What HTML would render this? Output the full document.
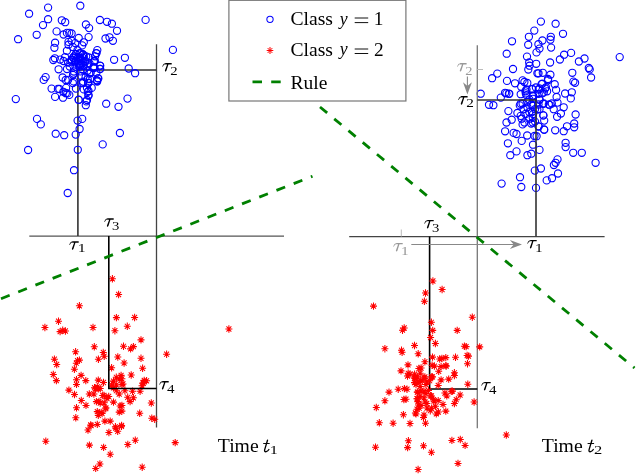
<!DOCTYPE html>
<html><head><meta charset="utf-8"><style>
html,body{margin:0;padding:0;background:#fff;width:636px;height:474px;overflow:hidden}
svg{display:block}
</style></head><body>
<svg width="636" height="474" viewBox="0 0 636 474">
<defs>
<g id="tau"><path d="M2.6,-8.6 L9.5,-8.6 L9.5,-7.15 L2.6,-7.15 Z M2.9,-8.5 C1.6,-8.0 0.7,-6.6 0.1,-5.0 L0.7,-4.8 C1.2,-6.1 2.0,-7.2 3.0,-7.3 Z M5.0,-7.4 L6.3,-7.4 L4.3,-1.0 C4.0,-0.2 3.3,0.1 2.9,-0.15 C2.6,-0.45 2.6,-1.0 2.85,-1.6 Z"/></g>
<g id="st" stroke="#ff0000" stroke-width="1.05" fill="none">
<path d="M-3.5 0H3.5M0 -3.7V3.7M-2.45 -2.55L2.45 2.55M-2.45 2.55L2.45 -2.55"/>
</g>
</defs>
<rect width="636" height="474" fill="#fff"/>
<g fill="none" stroke-linecap="butt">
<!-- left panel base lines -->
<line x1="29.3" y1="236.1" x2="284" y2="236.1" stroke="#555" stroke-width="1.3"/>
<line x1="156.5" y1="44.3" x2="156.5" y2="427.5" stroke="#444" stroke-width="1.3"/>
<polyline points="77.9,236 77.9,70 156.5,70" stroke="#333" stroke-width="1.6"/>
</g>
<g fill="none" stroke="#0000ff" stroke-width="1.1"><circle cx="48.1" cy="7.6" r="3.6"/><circle cx="80.3" cy="5.7" r="3.6"/><circle cx="29.1" cy="13.7" r="3.6"/><circle cx="48.1" cy="19.2" r="3.6"/><circle cx="43.0" cy="25.1" r="3.6"/><circle cx="61.8" cy="20.3" r="3.6"/><circle cx="65.2" cy="22.2" r="3.6"/><circle cx="36.7" cy="34.8" r="3.6"/><circle cx="18.1" cy="39.2" r="3.6"/><circle cx="56.6" cy="31.4" r="3.6"/><circle cx="63.6" cy="34.5" r="3.6"/><circle cx="66.9" cy="32.9" r="3.6"/><circle cx="69.3" cy="32.9" r="3.6"/><circle cx="71.6" cy="33.5" r="3.6"/><circle cx="99.9" cy="20" r="3.6"/><circle cx="107" cy="21.8" r="3.6"/><circle cx="111.9" cy="23.7" r="3.6"/><circle cx="117" cy="30.8" r="3.6"/><circle cx="145.6" cy="19.9" r="3.6"/><circle cx="85.9" cy="24.5" r="3.6"/><circle cx="89.1" cy="28.1" r="3.6"/><circle cx="88.6" cy="37.1" r="3.6"/><circle cx="105.5" cy="38.5" r="3.6"/><circle cx="109.5" cy="37.3" r="3.6"/><circle cx="112.9" cy="40.8" r="3.6"/><circle cx="97.3" cy="50.1" r="3.6"/><circle cx="96.3" cy="53.3" r="3.6"/><circle cx="114.1" cy="59.8" r="3.6"/><circle cx="124.9" cy="57.8" r="3.6"/><circle cx="128.7" cy="68.5" r="3.6"/><circle cx="135.1" cy="73.2" r="3.6"/><circle cx="172.9" cy="49.9" r="3.6"/><circle cx="55.1" cy="42.7" r="3.6"/><circle cx="54.4" cy="47.8" r="3.6"/><circle cx="78.7" cy="38" r="3.6"/><circle cx="68.5" cy="41.9" r="3.6"/><circle cx="71.6" cy="40.7" r="3.6"/><circle cx="68.5" cy="44.7" r="3.6"/><circle cx="72.8" cy="47" r="3.6"/><circle cx="75.2" cy="43.1" r="3.6"/><circle cx="83.8" cy="42.3" r="3.6"/><circle cx="82.2" cy="45.4" r="3.6"/><circle cx="53.3" cy="60" r="3.6"/><circle cx="54.8" cy="58.3" r="3.6"/><circle cx="60.2" cy="59.6" r="3.6"/><circle cx="63.5" cy="61" r="3.6"/><circle cx="77.5" cy="50.2" r="3.6"/><circle cx="76" cy="54.1" r="3.6"/><circle cx="80.7" cy="53.3" r="3.6"/><circle cx="78.3" cy="57.2" r="3.6"/><circle cx="83.8" cy="56.4" r="3.6"/><circle cx="65" cy="57.2" r="3.6"/><circle cx="83" cy="54.7" r="3.6"/><circle cx="79.9" cy="57.9" r="3.6"/><circle cx="72" cy="60.2" r="3.6"/><circle cx="68.1" cy="62.6" r="3.6"/><circle cx="85.4" cy="61.8" r="3.6"/><circle cx="69.7" cy="66.5" r="3.6"/><circle cx="87" cy="65.7" r="3.6"/><circle cx="83" cy="69.7" r="3.6"/><circle cx="73.6" cy="73.6" r="3.6"/><circle cx="89.3" cy="73.6" r="3.6"/><circle cx="81.4" cy="76" r="3.6"/><circle cx="87.7" cy="79.1" r="3.6"/><circle cx="68.1" cy="79.9" r="3.6"/><circle cx="73.6" cy="81.4" r="3.6"/><circle cx="83" cy="83" r="3.6"/><circle cx="62.6" cy="77.5" r="3.6"/><circle cx="58.6" cy="69.3" r="3.6"/><circle cx="94.8" cy="61" r="3.6"/><circle cx="93.6" cy="66.9" r="3.6"/><circle cx="96.4" cy="72.8" r="3.6"/><circle cx="98" cy="78.3" r="3.6"/><circle cx="96.4" cy="53.1" r="3.6"/><circle cx="51.6" cy="88.6" r="3.6"/><circle cx="59.4" cy="89" r="3.6"/><circle cx="66.1" cy="87.9" r="3.6"/><circle cx="63.4" cy="91.8" r="3.6"/><circle cx="67.3" cy="93.4" r="3.6"/><circle cx="69.3" cy="94.9" r="3.6"/><circle cx="55.1" cy="96.9" r="3.6"/><circle cx="63" cy="97.7" r="3.6"/><circle cx="75.9" cy="88.6" r="3.6"/><circle cx="78.7" cy="99.7" r="3.6"/><circle cx="85.8" cy="105.2" r="3.6"/><circle cx="87" cy="100" r="3.6"/><circle cx="88.5" cy="95.7" r="3.6"/><circle cx="88.5" cy="91" r="3.6"/><circle cx="87" cy="87.9" r="3.6"/><circle cx="83.8" cy="89.4" r="3.6"/><circle cx="97.2" cy="81.6" r="3.6"/><circle cx="65.7" cy="80" r="3.6"/><circle cx="72.8" cy="83.1" r="3.6"/><circle cx="81.4" cy="83.1" r="3.6"/><circle cx="88.5" cy="83.1" r="3.6"/><circle cx="91.7" cy="87.9" r="3.6"/><circle cx="45.6" cy="77.1" r="3.6"/><circle cx="43.7" cy="79.9" r="3.6"/><circle cx="57.9" cy="88.9" r="3.6"/><circle cx="15.8" cy="99.1" r="3.6"/><circle cx="37" cy="118.9" r="3.6"/><circle cx="40.8" cy="124.4" r="3.6"/><circle cx="55.7" cy="133.7" r="3.6"/><circle cx="64.2" cy="135.2" r="3.6"/><circle cx="75.7" cy="134.6" r="3.6"/><circle cx="77.6" cy="120.6" r="3.6"/><circle cx="78.7" cy="99.9" r="3.6"/><circle cx="79.6" cy="129" r="3.6"/><circle cx="77.8" cy="149.8" r="3.6"/><circle cx="28.1" cy="150" r="3.6"/><circle cx="106.2" cy="103.7" r="3.6"/><circle cx="118.5" cy="106.8" r="3.6"/><circle cx="127.5" cy="98.6" r="3.6"/><circle cx="86.3" cy="101.4" r="3.6"/><circle cx="88.5" cy="95.1" r="3.6"/><circle cx="87.8" cy="91.9" r="3.6"/><circle cx="82.2" cy="118.9" r="3.6"/><circle cx="119.9" cy="133" r="3.6"/><circle cx="102.7" cy="144.4" r="3.6"/><circle cx="65.8" cy="93.2" r="3.6"/><circle cx="74" cy="170.2" r="3.6"/><circle cx="67.7" cy="193" r="3.6"/><circle cx="93.8" cy="61.4" r="3.6"/><circle cx="100" cy="65.6" r="3.6"/><circle cx="100" cy="69" r="3.6"/><circle cx="93.3" cy="68" r="3.6"/><circle cx="97.1" cy="80.8" r="3.6"/><circle cx="94.5" cy="61.3" r="3.6"/><circle cx="94.5" cy="67.7" r="3.6"/><circle cx="100.2" cy="65.8" r="3.6"/><circle cx="100.2" cy="68.9" r="3.6"/><circle cx="98.3" cy="78.4" r="3.6"/><circle cx="97" cy="80.3" r="3.6"/><circle cx="89.4" cy="63.2" r="3.6"/><circle cx="87.5" cy="70.8" r="3.6"/><circle cx="90.7" cy="72.7" r="3.6"/><circle cx="88.8" cy="57.5" r="3.6"/><circle cx="95.1" cy="56.3" r="3.6"/><circle cx="85.6" cy="77.2" r="3.6"/><circle cx="90" cy="79" r="3.6"/><circle cx="83.1" cy="81.6" r="3.6"/><circle cx="88.1" cy="82.8" r="3.6"/><circle cx="75.8" cy="54.2" r="3.6"/><circle cx="79.6" cy="53.2" r="3.6"/><circle cx="82.9" cy="54.2" r="3.6"/><circle cx="73.4" cy="57.5" r="3.6"/><circle cx="78.2" cy="57.9" r="3.6"/><circle cx="82.9" cy="57.9" r="3.6"/><circle cx="86.2" cy="56.5" r="3.6"/><circle cx="75.8" cy="60.8" r="3.6"/><circle cx="80.5" cy="60.8" r="3.6"/><circle cx="85.2" cy="60.8" r="3.6"/><circle cx="75.5" cy="66.6" r="3.6"/><circle cx="75.6" cy="60.8" r="3.6"/><circle cx="71.4" cy="61.5" r="3.6"/><circle cx="83.7" cy="66.0" r="3.6"/><circle cx="83.2" cy="64.7" r="3.6"/><circle cx="79.4" cy="64.3" r="3.6"/><circle cx="67.0" cy="69.0" r="3.6"/><circle cx="80.0" cy="66.5" r="3.6"/><circle cx="66.9" cy="50.8" r="3.6"/><circle cx="71.7" cy="59.7" r="3.6"/><circle cx="78.8" cy="62.7" r="3.6"/><circle cx="80.1" cy="58.5" r="3.6"/><circle cx="78.9" cy="65.8" r="3.6"/><circle cx="73.0" cy="75.0" r="3.6"/><circle cx="80.3" cy="71.4" r="3.6"/><circle cx="73.3" cy="57.8" r="3.6"/><circle cx="74.9" cy="62.3" r="3.6"/><circle cx="80.8" cy="64.7" r="3.6"/><circle cx="74.3" cy="56.3" r="3.6"/><circle cx="73.9" cy="71.5" r="3.6"/></g>
<g><use href="#st" x="79.4" y="305.8"/><use href="#st" x="112.4" y="278.8"/><use href="#st" x="118.6" y="294.5"/><use href="#st" x="116.4" y="317.6"/><use href="#st" x="134.6" y="317.5"/><use href="#st" x="58.5" y="321.2"/><use href="#st" x="44.9" y="327.5"/><use href="#st" x="60.1" y="331.6"/><use href="#st" x="62.7" y="330.3"/><use href="#st" x="65.4" y="331"/><use href="#st" x="93" y="327.5"/><use href="#st" x="94.3" y="346.8"/><use href="#st" x="75.6" y="351.8"/><use href="#st" x="103.3" y="352.5"/><use href="#st" x="104.2" y="356.3"/><use href="#st" x="98.4" y="359.2"/><use href="#st" x="54.4" y="359.2"/><use href="#st" x="77.5" y="360.7"/><use href="#st" x="79.4" y="360.1"/><use href="#st" x="76.3" y="363.2"/><use href="#st" x="56.7" y="364.5"/><use href="#st" x="53.3" y="374.5"/><use href="#st" x="56.4" y="380.6"/><use href="#st" x="74.4" y="369.2"/><use href="#st" x="81.1" y="375.4"/><use href="#st" x="76.5" y="379.7"/><use href="#st" x="85.8" y="380.6"/><use href="#st" x="76.5" y="384.4"/><use href="#st" x="68.9" y="390.1"/><use href="#st" x="74.5" y="394.5"/><use href="#st" x="89.3" y="394"/><use href="#st" x="81.3" y="400.5"/><use href="#st" x="127.3" y="326.3"/><use href="#st" x="114.9" y="330.7"/><use href="#st" x="141" y="339.9"/><use href="#st" x="123.5" y="346.3"/><use href="#st" x="130.6" y="348.9"/><use href="#st" x="133.4" y="346.6"/><use href="#st" x="117.8" y="357"/><use href="#st" x="124.1" y="363"/><use href="#st" x="141" y="358.3"/><use href="#st" x="111.6" y="367.8"/><use href="#st" x="142.6" y="368.3"/><use href="#st" x="131.2" y="375"/><use href="#st" x="98.3" y="380.1"/><use href="#st" x="103.5" y="382.5"/><use href="#st" x="97.3" y="386.8"/><use href="#st" x="94.5" y="387.7"/><use href="#st" x="100.2" y="388.5"/><use href="#st" x="116.3" y="377.3"/><use href="#st" x="119.2" y="379.2"/><use href="#st" x="121.1" y="375.4"/><use href="#st" x="113.5" y="381.1"/><use href="#st" x="111.6" y="384.9"/><use href="#st" x="116.3" y="384.9"/><use href="#st" x="123" y="383.9"/><use href="#st" x="143" y="383"/><use href="#st" x="142" y="385.8"/><use href="#st" x="86" y="405.4"/><use href="#st" x="95.4" y="388.8"/><use href="#st" x="96.4" y="401.6"/><use href="#st" x="100.2" y="403"/><use href="#st" x="104" y="395.4"/><use href="#st" x="108.7" y="396.4"/><use href="#st" x="113.5" y="402.1"/><use href="#st" x="120.1" y="405.9"/><use href="#st" x="119.2" y="412.1"/><use href="#st" x="105.9" y="407.8"/><use href="#st" x="97.3" y="411.6"/><use href="#st" x="102.1" y="413.5"/><use href="#st" x="98.3" y="415.4"/><use href="#st" x="104.9" y="421.1"/><use href="#st" x="110.2" y="421.1"/><use href="#st" x="90.7" y="425"/><use href="#st" x="97.3" y="424.4"/><use href="#st" x="115.4" y="426.8"/><use href="#st" x="121.6" y="425.4"/><use href="#st" x="119.2" y="394"/><use href="#st" x="124.9" y="390.7"/><use href="#st" x="132.5" y="391.2"/><use href="#st" x="140.1" y="391.2"/><use href="#st" x="127.7" y="397.3"/><use href="#st" x="133.4" y="397.8"/><use href="#st" x="130.1" y="401.6"/><use href="#st" x="139.7" y="413.3"/><use href="#st" x="113.5" y="387.8"/><use href="#st" x="116.3" y="390.7"/><use href="#st" x="76.5" y="407.8"/><use href="#st" x="75.8" y="417.8"/><use href="#st" x="88" y="430"/><use href="#st" x="45.8" y="441.2"/><use href="#st" x="108.9" y="432.5"/><use href="#st" x="115.8" y="428.1"/><use href="#st" x="117.7" y="431.3"/><use href="#st" x="121.5" y="426.3"/><use href="#st" x="89.4" y="445.1"/><use href="#st" x="103.6" y="447.4"/><use href="#st" x="110.2" y="454.3"/><use href="#st" x="127.8" y="444.5"/><use href="#st" x="135.3" y="440.2"/><use href="#st" x="99.9" y="464"/><use href="#st" x="95.7" y="468.4"/><use href="#st" x="142.2" y="467.2"/><use href="#st" x="166.6" y="354.2"/><use href="#st" x="144.2" y="380.4"/><use href="#st" x="146.6" y="380.8"/><use href="#st" x="143.3" y="383.1"/><use href="#st" x="121.9" y="378.8"/><use href="#st" x="121.9" y="384.5"/><use href="#st" x="151.3" y="403"/><use href="#st" x="121.9" y="405.4"/><use href="#st" x="121.9" y="411.1"/><use href="#st" x="151.8" y="418.2"/><use href="#st" x="154.7" y="419.2"/><use href="#st" x="175.2" y="442.6"/><use href="#st" x="228.9" y="329"/><use href="#st" x="91.1" y="425.6"/><use href="#st" x="102.7" y="395.5"/><use href="#st" x="99" y="401.4"/><use href="#st" x="104.2" y="402.8"/><use href="#st" x="101.2" y="412.4"/><use href="#st" x="105.7" y="408.7"/><use href="#st" x="93.9" y="394"/><use href="#st" x="98.3" y="388.8"/><use href="#st" x="107" y="398.5"/></g>
<polyline points="108.8,236 108.8,388.5 156.5,388.5" fill="none" stroke="#000" stroke-width="1.6"/>
<!-- right panel -->
<g fill="none" stroke="#0000ff" stroke-width="1.1"><circle cx="540.9" cy="21.6" r="3.6"/><circle cx="555.6" cy="23.7" r="3.6"/><circle cx="563" cy="33.8" r="3.6"/><circle cx="534.3" cy="30.6" r="3.6"/><circle cx="528.9" cy="36.8" r="3.6"/><circle cx="512" cy="41.3" r="3.6"/><circle cx="528.2" cy="44.8" r="3.6"/><circle cx="506.7" cy="53.7" r="3.6"/><circle cx="542.4" cy="40.5" r="3.6"/><circle cx="538.4" cy="44.2" r="3.6"/><circle cx="539.5" cy="48.6" r="3.6"/><circle cx="536.5" cy="52.4" r="3.6"/><circle cx="550.8" cy="36.8" r="3.6"/><circle cx="550.4" cy="39.7" r="3.6"/><circle cx="551.1" cy="47.6" r="3.6"/><circle cx="527" cy="56.6" r="3.6"/><circle cx="529.2" cy="62.5" r="3.6"/><circle cx="529.5" cy="65.7" r="3.6"/><circle cx="536.2" cy="63.8" r="3.6"/><circle cx="550.1" cy="62.5" r="3.6"/><circle cx="513" cy="69" r="3.6"/><circle cx="528.3" cy="69.5" r="3.6"/><circle cx="559.9" cy="59.5" r="3.6"/><circle cx="564.1" cy="54.7" r="3.6"/><circle cx="571.1" cy="52.9" r="3.6"/><circle cx="578.9" cy="61.5" r="3.6"/><circle cx="584.5" cy="58.5" r="3.6"/><circle cx="619.7" cy="57.1" r="3.6"/><circle cx="588.8" cy="68" r="3.6"/><circle cx="589.7" cy="69.4" r="3.6"/><circle cx="591.1" cy="77.5" r="3.6"/><circle cx="572.3" cy="72.8" r="3.6"/><circle cx="573.4" cy="81.6" r="3.6"/><circle cx="575.1" cy="82.8" r="3.6"/><circle cx="497.3" cy="73.6" r="3.6"/><circle cx="492.1" cy="78.2" r="3.6"/><circle cx="507" cy="80.9" r="3.6"/><circle cx="515" cy="83.3" r="3.6"/><circle cx="522.6" cy="80.4" r="3.6"/><circle cx="524.4" cy="82" r="3.6"/><circle cx="527.3" cy="83" r="3.6"/><circle cx="521.2" cy="86.8" r="3.6"/><circle cx="480.7" cy="93.7" r="3.6"/><circle cx="505.1" cy="92.8" r="3.6"/><circle cx="508.9" cy="93.7" r="3.6"/><circle cx="500.8" cy="97.6" r="3.6"/><circle cx="520.7" cy="94.2" r="3.6"/><circle cx="537.4" cy="73.3" r="3.6"/><circle cx="532.1" cy="89.4" r="3.6"/><circle cx="535.9" cy="87.5" r="3.6"/><circle cx="525.5" cy="91.3" r="3.6"/><circle cx="526.4" cy="95.1" r="3.6"/><circle cx="533.1" cy="96.1" r="3.6"/><circle cx="489" cy="104.8" r="3.6"/><circle cx="493.4" cy="105.2" r="3.6"/><circle cx="520.7" cy="103.7" r="3.6"/><circle cx="527.4" cy="101.8" r="3.6"/><circle cx="508.4" cy="111.1" r="3.6"/><circle cx="517.4" cy="113" r="3.6"/><circle cx="511.7" cy="119.7" r="3.6"/><circle cx="506.5" cy="122.5" r="3.6"/><circle cx="505.1" cy="131.3" r="3.6"/><circle cx="513.6" cy="132.9" r="3.6"/><circle cx="516.5" cy="134" r="3.6"/><circle cx="527.2" cy="135.5" r="3.6"/><circle cx="534.5" cy="136" r="3.6"/><circle cx="519.8" cy="105.4" r="3.6"/><circle cx="522.6" cy="103.5" r="3.6"/><circle cx="523.6" cy="109.2" r="3.6"/><circle cx="527.4" cy="107.3" r="3.6"/><circle cx="531.2" cy="104.5" r="3.6"/><circle cx="525.5" cy="114" r="3.6"/><circle cx="521.7" cy="118.7" r="3.6"/><circle cx="524.5" cy="122.5" r="3.6"/><circle cx="529.3" cy="118.7" r="3.6"/><circle cx="533.1" cy="114" r="3.6"/><circle cx="535" cy="109.2" r="3.6"/><circle cx="531.2" cy="123.5" r="3.6"/><circle cx="535" cy="121.6" r="3.6"/><circle cx="522.6" cy="124.4" r="3.6"/><circle cx="529.3" cy="112.1" r="3.6"/><circle cx="520.7" cy="115.9" r="3.6"/><circle cx="538.5" cy="73.3" r="3.6"/><circle cx="542.8" cy="72.8" r="3.6"/><circle cx="550.4" cy="74.7" r="3.6"/><circle cx="548" cy="79" r="3.6"/><circle cx="542.3" cy="83.7" r="3.6"/><circle cx="554.7" cy="84.2" r="3.6"/><circle cx="556.1" cy="89.9" r="3.6"/><circle cx="565.1" cy="93.5" r="3.6"/><circle cx="571.8" cy="92.3" r="3.6"/><circle cx="570.8" cy="98.4" r="3.6"/><circle cx="556.6" cy="97" r="3.6"/><circle cx="551.8" cy="103.5" r="3.6"/><circle cx="539.5" cy="88.5" r="3.6"/><circle cx="545.2" cy="88.5" r="3.6"/><circle cx="547.1" cy="91.3" r="3.6"/><circle cx="542.3" cy="93.2" r="3.6"/><circle cx="532.8" cy="96.1" r="3.6"/><circle cx="539.5" cy="99.9" r="3.6"/><circle cx="557.5" cy="102.6" r="3.6"/><circle cx="553.7" cy="109.2" r="3.6"/><circle cx="563.7" cy="107.3" r="3.6"/><circle cx="560.9" cy="113.5" r="3.6"/><circle cx="557.1" cy="116.8" r="3.6"/><circle cx="543.8" cy="103.5" r="3.6"/><circle cx="543.3" cy="115.4" r="3.6"/><circle cx="544.2" cy="120.6" r="3.6"/><circle cx="538.5" cy="126.3" r="3.6"/><circle cx="544.2" cy="129.9" r="3.6"/><circle cx="555.2" cy="130.3" r="3.6"/><circle cx="563.7" cy="131.2" r="3.6"/><circle cx="567" cy="126.3" r="3.6"/><circle cx="574.2" cy="123.5" r="3.6"/><circle cx="574.2" cy="127.3" r="3.6"/><circle cx="575.6" cy="114.5" r="3.6"/><circle cx="532.8" cy="98.8" r="3.6"/><circle cx="532.8" cy="105.4" r="3.6"/><circle cx="538.5" cy="104.5" r="3.6"/><circle cx="531.9" cy="112.1" r="3.6"/><circle cx="532.8" cy="117.8" r="3.6"/><circle cx="532.8" cy="122.5" r="3.6"/><circle cx="539.5" cy="109.2" r="3.6"/><circle cx="521.7" cy="140.9" r="3.6"/><circle cx="507.9" cy="143.3" r="3.6"/><circle cx="533" cy="144.7" r="3.6"/><circle cx="516.5" cy="151.4" r="3.6"/><circle cx="510.3" cy="155.2" r="3.6"/><circle cx="527.4" cy="155.2" r="3.6"/><circle cx="531.3" cy="153.7" r="3.6"/><circle cx="536.6" cy="136.2" r="3.6"/><circle cx="539.5" cy="149.9" r="3.6"/><circle cx="565.6" cy="142.8" r="3.6"/><circle cx="565.6" cy="147.1" r="3.6"/><circle cx="573.2" cy="152.8" r="3.6"/><circle cx="581.8" cy="152.8" r="3.6"/><circle cx="557.5" cy="159.4" r="3.6"/><circle cx="555.6" cy="162.8" r="3.6"/><circle cx="553.9" cy="165" r="3.6"/><circle cx="540.9" cy="168.5" r="3.6"/><circle cx="534.8" cy="170.6" r="3.6"/><circle cx="558" cy="173.5" r="3.6"/><circle cx="501.6" cy="183.6" r="3.6"/><circle cx="520" cy="177.2" r="3.6"/><circle cx="521.3" cy="187" r="3.6"/><circle cx="536" cy="187.9" r="3.6"/><circle cx="546.7" cy="180.4" r="3.6"/><circle cx="552" cy="178.2" r="3.6"/><circle cx="548.1" cy="80.2" r="3.6"/><circle cx="541.6" cy="84.1" r="3.6"/><circle cx="545.9" cy="87.3" r="3.6"/><circle cx="526.5" cy="89.5" r="3.6"/><circle cx="532.3" cy="88.8" r="3.6"/><circle cx="538.7" cy="89.5" r="3.6"/><circle cx="525.8" cy="93.4" r="3.6"/><circle cx="533" cy="95.6" r="3.6"/><circle cx="538.7" cy="93.8" r="3.6"/><circle cx="543.8" cy="92.4" r="3.6"/><circle cx="506.4" cy="93.4" r="3.6"/><circle cx="509.3" cy="93.8" r="3.6"/><circle cx="543" cy="103.8" r="3.6"/><circle cx="539.5" cy="99.5" r="3.6"/><circle cx="537.3" cy="109.6" r="3.6"/><circle cx="548.8" cy="104.6" r="3.6"/><circle cx="529.4" cy="99.5" r="3.6"/><circle cx="543.4" cy="115.4" r="3.6"/><circle cx="544.1" cy="129.4" r="3.6"/><circle cx="538.7" cy="126.6" r="3.6"/><circle cx="549.5" cy="104.7" r="3.6"/><circle cx="595.6" cy="162.8" r="3.6"/></g>
<g fill="none" stroke-linecap="butt">
<line x1="349.2" y1="236.6" x2="604.6" y2="236.6" stroke="#444" stroke-width="1.3"/>
<line x1="477.3" y1="45.2" x2="477.3" y2="428.3" stroke="#777" stroke-width="1.3"/>
<polyline points="536,236.5 536,100 477.3,100" stroke="#333" stroke-width="1.6"/>
<polyline points="429.6,236.5 429.6,389 477.3,389" stroke="#000" stroke-width="1.6"/>
<line x1="401.3" y1="229.5" x2="401.3" y2="236.5" stroke="#bbb" stroke-width="1"/>
<line x1="477.3" y1="69.5" x2="483" y2="69.5" stroke="#bbb" stroke-width="1"/>
<line x1="411.3" y1="244.5" x2="514" y2="244.5" stroke="#888" stroke-width="1.1"/>
<path d="M509.9 240 L522 244.5 L509.9 248.9 L513.7 244.5 Z" fill="#888" stroke="none"/>
<line x1="467.4" y1="76.4" x2="467.4" y2="87" stroke="#888" stroke-width="1.1"/>
<path d="M463 82.3 L467.4 94.5 L471.9 82.3 L467.4 86 Z" fill="#888" stroke="none"/>
</g>
<g><use href="#st" x="373.5" y="306.1"/><use href="#st" x="425.5" y="293"/><use href="#st" x="424.4" y="301.3"/><use href="#st" x="432.9" y="281"/><use href="#st" x="442.1" y="289.5"/><use href="#st" x="404.2" y="328"/><use href="#st" x="402.5" y="330.2"/><use href="#st" x="431.4" y="322.3"/><use href="#st" x="432.7" y="330.4"/><use href="#st" x="430.6" y="337.5"/><use href="#st" x="435.4" y="343.5"/><use href="#st" x="457.2" y="330.4"/><use href="#st" x="414.5" y="345.5"/><use href="#st" x="384.9" y="348.7"/><use href="#st" x="401.5" y="350.3"/><use href="#st" x="402.1" y="352.3"/><use href="#st" x="418.2" y="353.8"/><use href="#st" x="408" y="364.9"/><use href="#st" x="401" y="370.9"/><use href="#st" x="408.2" y="373.3"/><use href="#st" x="409.9" y="374.2"/><use href="#st" x="414.6" y="374.2"/><use href="#st" x="415.1" y="378.5"/><use href="#st" x="417.9" y="381.8"/><use href="#st" x="418.9" y="368.5"/><use href="#st" x="432.5" y="357.1"/><use href="#st" x="439.7" y="359"/><use href="#st" x="445.8" y="357.6"/><use href="#st" x="455.5" y="357.3"/><use href="#st" x="464.4" y="346.2"/><use href="#st" x="424.9" y="361.8"/><use href="#st" x="432.1" y="365.2"/><use href="#st" x="434.4" y="366.1"/><use href="#st" x="441.1" y="366.6"/><use href="#st" x="445.8" y="365.6"/><use href="#st" x="438.7" y="371.3"/><use href="#st" x="454.4" y="372.8"/><use href="#st" x="421.1" y="368"/><use href="#st" x="414.5" y="378"/><use href="#st" x="420.2" y="373.2"/><use href="#st" x="424" y="378"/><use href="#st" x="420.2" y="380.8"/><use href="#st" x="426.8" y="381.8"/><use href="#st" x="431.6" y="377"/><use href="#st" x="441.1" y="379.9"/><use href="#st" x="448.7" y="379.1"/><use href="#st" x="466.1" y="346.6"/><use href="#st" x="479.7" y="346.9"/><use href="#st" x="467.1" y="355.5"/><use href="#st" x="468.5" y="356.1"/><use href="#st" x="467.5" y="363.7"/><use href="#st" x="446.2" y="366.1"/><use href="#st" x="441.9" y="358.5"/><use href="#st" x="389" y="392.1"/><use href="#st" x="398.2" y="389.2"/><use href="#st" x="404.4" y="388.6"/><use href="#st" x="407" y="389.2"/><use href="#st" x="384.9" y="400.8"/><use href="#st" x="403.9" y="399.5"/><use href="#st" x="376.3" y="407.5"/><use href="#st" x="403.4" y="414.7"/><use href="#st" x="415.1" y="377.8"/><use href="#st" x="416" y="384.5"/><use href="#st" x="417.9" y="392.1"/><use href="#st" x="417" y="398.7"/><use href="#st" x="417.9" y="401.6"/><use href="#st" x="417" y="409.2"/><use href="#st" x="416" y="413.9"/><use href="#st" x="407.5" y="376"/><use href="#st" x="406" y="399.2"/><use href="#st" x="454.4" y="375.5"/><use href="#st" x="438.2" y="385.4"/><use href="#st" x="444.9" y="393"/><use href="#st" x="446.8" y="395.9"/><use href="#st" x="452.5" y="391.1"/><use href="#st" x="460.1" y="395"/><use href="#st" x="456.3" y="399.7"/><use href="#st" x="454.4" y="403.5"/><use href="#st" x="445.8" y="411.1"/><use href="#st" x="436.3" y="413.9"/><use href="#st" x="424" y="414.9"/><use href="#st" x="415.4" y="413"/><use href="#st" x="419.2" y="408.2"/><use href="#st" x="426.8" y="403.5"/><use href="#st" x="433.5" y="399.7"/><use href="#st" x="438.2" y="400.6"/><use href="#st" x="443" y="404.4"/><use href="#st" x="431.6" y="408.2"/><use href="#st" x="417.3" y="398.7"/><use href="#st" x="424" y="397.8"/><use href="#st" x="430.6" y="395.9"/><use href="#st" x="417.3" y="392.1"/><use href="#st" x="424" y="391.1"/><use href="#st" x="420.2" y="386.4"/><use href="#st" x="425.9" y="384.5"/><use href="#st" x="414.5" y="382.6"/><use href="#st" x="422.1" y="380.7"/><use href="#st" x="429.7" y="380.7"/><use href="#st" x="417.3" y="376.9"/><use href="#st" x="424.9" y="376.9"/><use href="#st" x="432.5" y="376.9"/><use href="#st" x="421.1" y="405.4"/><use href="#st" x="435.4" y="406.3"/><use href="#st" x="379.3" y="422.8"/><use href="#st" x="393.1" y="423.2"/><use href="#st" x="410" y="423.5"/><use href="#st" x="408.4" y="440.8"/><use href="#st" x="407.6" y="447.6"/><use href="#st" x="375.5" y="447.2"/><use href="#st" x="418.1" y="469.5"/><use href="#st" x="423.5" y="417.4"/><use href="#st" x="425.5" y="423.2"/><use href="#st" x="438.4" y="412"/><use href="#st" x="430.3" y="410.7"/><use href="#st" x="423.5" y="445.8"/><use href="#st" x="431.4" y="452.3"/><use href="#st" x="451.9" y="440.4"/><use href="#st" x="460.3" y="439.5"/><use href="#st" x="465.1" y="445.4"/><use href="#st" x="458" y="463.4"/><use href="#st" x="472.3" y="317.2"/><use href="#st" x="467.8" y="384.2"/><use href="#st" x="474.1" y="402"/><use href="#st" x="451.3" y="391.3"/><use href="#st" x="506.3" y="435"/><use href="#st" x="421" y="391"/><use href="#st" x="426" y="393.5"/><use href="#st" x="431.5" y="396"/><use href="#st" x="425" y="402"/><use href="#st" x="420" y="396.5"/><use href="#st" x="428.5" y="390.5"/><use href="#st" x="434" y="401"/><use href="#st" x="427" y="408"/><use href="#st" x="418.5" y="405"/></g>
<g fill="none">
<!-- legend -->
<rect x="228.9" y="0.3" width="177" height="100.7" stroke="#777" stroke-width="1.2" fill="#fff"/>
<circle cx="270" cy="19.3" r="3.15" stroke="#0000ff" stroke-width="1.05"/>
<use href="#st" transform="translate(270,50.5) scale(0.95)"/>
<line x1="252.5" y1="81.8" x2="281" y2="81.8" stroke="#008000" stroke-width="2.8" stroke-dasharray="9.5 9.2"/>
<!-- rules -->
<line x1="1" y1="298.7" x2="312.5" y2="176.2" stroke="#008000" stroke-width="2.8" stroke-dasharray="9.3 9.2"/>
<line x1="320" y1="107" x2="634.5" y2="368" stroke="#008000" stroke-width="2.8" stroke-dasharray="9.3 9.2"/>
</g>
<g font-family="Liberation Serif" fill="#000" style="opacity:0.999">
<text x="290.52" y="25.20" font-size="19.6" fill="#000">Class</text>
<text x="339.81" y="24.50" font-size="17.8" fill="#000" font-style="italic">y</text>
<path d="M354.7 18.0H368.2M354.7 22.6H368.2" stroke="#111" stroke-width="1"/>
<text x="373.85" y="25.00" font-size="19.4" fill="#000">1</text>
<text x="290.52" y="56.00" font-size="19.6" fill="#000">Class</text>
<text x="339.81" y="55.40" font-size="17.8" fill="#000" font-style="italic">y</text>
<path d="M354.7 49.0H368.2M354.7 53.5H368.2" stroke="#111" stroke-width="1"/>
<text x="373.93" y="55.90" font-size="19.3" fill="#000">2</text>
<text x="290.62" y="88.70" font-size="19.5" fill="#000">Rule</text>
<text x="217.81" y="451.70" font-size="19.7" fill="#000">Time</text>
<path d="M267.5 440.2 L264.7 449.6 Q264.1 452.1 266.2 451.7 Q267.9 451.2 268.9 449.5" fill="none" stroke="#000" stroke-width="1.35" stroke-linecap="round"/><path d="M263.2 443.5H269.7" stroke="#000" stroke-width="0.95"/>
<text transform="translate(271.00,453.80) scale(1.257,1)" x="-1.10" y="0" font-size="13" fill="#000">1</text>
<text x="541.81" y="451.80" font-size="19.7" fill="#000">Time</text>
<path transform="translate(324.4,0)" d="M267.5 440.2 L264.7 449.6 Q264.1 452.1 266.2 451.7 Q267.9 451.2 268.9 449.5" fill="none" stroke="#000" stroke-width="1.35" stroke-linecap="round"/><path transform="translate(324.4,0)" d="M263.2 443.5H269.7" stroke="#000" stroke-width="0.95"/>
<text transform="translate(594.70,453.50) scale(1.269,1)" x="-0.58" y="0" font-size="13" fill="#000">2</text>
<use href="#tau" x="162.2" y="71.6" fill="#000"/>
<text transform="translate(170.90,74.60) scale(1.135,1)" x="-0.58" y="0" font-size="13" fill="#000">2</text>
<use href="#tau" x="69.2" y="249.8" fill="#000"/>
<text transform="translate(79.10,251.70) scale(1.235,1)" x="-1.10" y="0" font-size="13" fill="#000">1</text>
<use href="#tau" x="104.2" y="226.8" fill="#000"/>
<text transform="translate(112.70,230.00) scale(1.131,1)" x="-0.58" y="0" font-size="13" fill="#000">3</text>
<use href="#tau" x="159.2" y="389.6" fill="#000"/>
<text transform="translate(167.20,392.60) scale(1.158,1)" x="-0.26" y="0" font-size="13" fill="#000">4</text>
<use href="#tau" x="457.1" y="71.6" fill="#999"/>
<text transform="translate(465.90,74.60) scale(1.115,1)" x="-0.58" y="0" font-size="13" fill="#999">2</text>
<use href="#tau" x="458.1" y="104.7" fill="#000"/>
<text transform="translate(466.80,106.60) scale(1.173,1)" x="-0.58" y="0" font-size="13" fill="#000">2</text>
<use href="#tau" x="424.2" y="228.5" fill="#000"/>
<text transform="translate(432.70,231.70) scale(1.131,1)" x="-0.58" y="0" font-size="13" fill="#000">3</text>
<use href="#tau" x="393.2" y="251.5" fill="#999"/>
<text transform="translate(402.20,254.70) scale(1.192,1)" x="-1.10" y="0" font-size="13" fill="#999">1</text>
<use href="#tau" x="527.2" y="248.5" fill="#000"/>
<text transform="translate(536.20,251.60) scale(1.192,1)" x="-1.10" y="0" font-size="13" fill="#000">1</text>
<use href="#tau" x="481.2" y="390.5" fill="#000"/>
<text transform="translate(489.20,393.60) scale(1.158,1)" x="-0.26" y="0" font-size="13" fill="#000">4</text>
</g>
</svg>
</body></html>
